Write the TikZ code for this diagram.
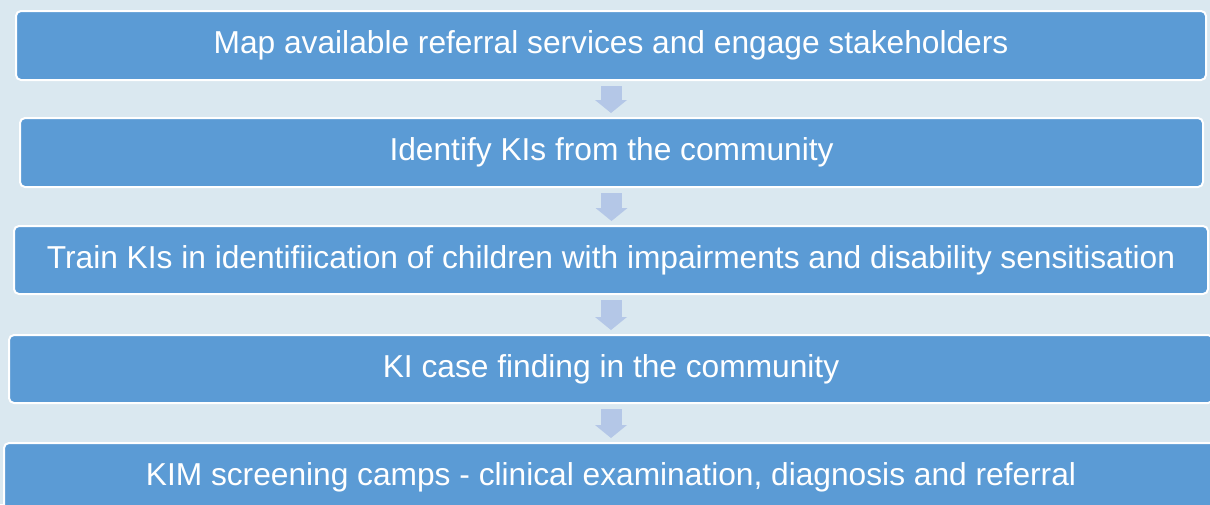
\documentclass[tikz,border=0pt]{standalone}
\usepackage{fontspec}
\setmainfont{Liberation Sans}
\usetikzlibrary{arrows.meta}
\definecolor{bgblue}{HTML}{DAE8F0}
\definecolor{boxblue}{HTML}{5B9BD5}
\definecolor{arrowblue}{HTML}{B4C7E7}
\begin{document}
\begin{tikzpicture}[x=1pt,y=-1pt]
	\tikzstyle{stage}=[fill=boxblue,draw=white,line width=2pt,rounded corners=5pt,
	text=white,font=\fontsize{31.7}{38}\selectfont,minimum height=69pt,inner sep=0pt]
	\tikzstyle{link}=[draw=arrowblue,line width=21pt,
	-{Triangle[width=32pt,length=13pt,line width=0pt]},shorten <=5pt,shorten >=4pt]
	\fill[bgblue] (0,0) rectangle (1210,504);
	\clip (0,0) rectangle (1210,504);
	\node[stage,minimum width=1190pt] (map) at (611,45.5) {Map available referral services and engage stakeholders};
	\node[stage,minimum width=1183pt] (identify) at (611.5,152.5) {Identify KIs from the community};
	\node[stage,minimum width=1194pt,minimum height=68pt] (train) at (611,260) {Train KIs in identifiication of children with impairments and disability sensitisation};
	\node[stage,minimum width=1204pt,minimum height=68pt] (finding) at (611,369) {KI case finding in the community};
	\node[stage,minimum width=1214pt] (camps) at (611,477.5) {KIM screening camps - clinical examination, diagnosis and referral};
	\foreach \a/\b in {map/identify,identify/train,train/finding,finding/camps}
	\draw[link] (\a.south) -- (\a.south |- \b.north);
\end{tikzpicture}
\end{document}
